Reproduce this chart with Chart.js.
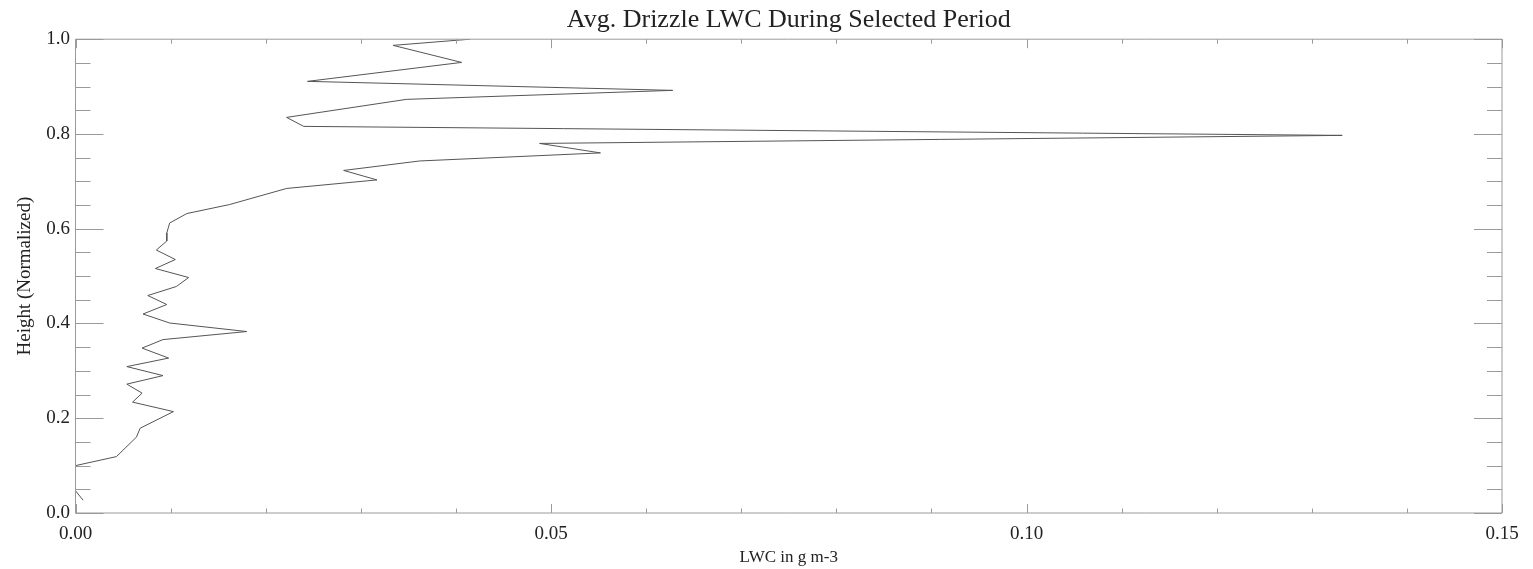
<!DOCTYPE html>
<html>
<head>
<meta charset="utf-8">
<title>Avg. Drizzle LWC During Selected Period</title>
<script src="https://cdn.jsdelivr.net/npm/chart.js@4.4.1/dist/chart.umd.min.js"></script>
<style>
    html, body { margin: 0; padding: 0; background: #fff; }
    canvas { display: block; }
</style>
</head>
<body>
<canvas id="lwcChart" width="1533" height="569"></canvas>
<script>
// profile, from cloud top downwards
const heights = [1.000, 0.987, 0.951, 0.911, 0.892, 0.873, 0.835, 0.816, 0.797, 0.780,
                 0.760, 0.743, 0.723, 0.703, 0.685, 0.651, 0.632, 0.612, 0.591, 0.574,
                 0.555, 0.535, 0.516, 0.497, 0.478, 0.459, 0.440, 0.420, 0.401, 0.383,
                 0.366, 0.348, 0.327, 0.309, 0.290, 0.272, 0.253, 0.234, 0.214, 0.179,
                 0.160, 0.119, 0.100, 0.047, 0.027];
const lwc = [0.0415, 0.0334, 0.0406, 0.0244, 0.0628, 0.0348, 0.0222, 0.0240, 0.1332, 0.0488,
             0.0552, 0.0362, 0.0282, 0.0317, 0.0222, 0.0162, 0.0117, 0.0099, 0.0096, 0.0096,
             0.0085, 0.0105, 0.0084, 0.0119, 0.0106, 0.0076, 0.0096, 0.0071, 0.0099, 0.0180,
             0.0092, 0.0070, 0.0098, 0.0054, 0.0092, 0.0054, 0.0070, 0.0060, 0.0103, 0.0068,
             0.0064, 0.0043, 0.0000, 0.0000, 0.0008];

const xTicks = [0, 0.05, 0.10, 0.15];
const yTicks = [0, 0.2, 0.4, 0.6, 0.8, 1.0];

const serif = "'Liberation Serif', 'Times New Roman', serif";
const axisColor = '#9a9a9a';

// IDL style box: ticks point into the plot, minor ticks between the labels
const boxTicks = {
    id: 'boxTicks',
    afterDatasetsDraw(chart) {
        const { ctx, chartArea: a, scales: { x, y } } = chart;
        ctx.save();
        ctx.strokeStyle = axisColor;
        ctx.lineWidth = 1;
        ctx.beginPath();
        ctx.rect(a.left, a.top, a.right - a.left, a.bottom - a.top);
        for (let i = 0; i <= 20; i++) {
            const py = Math.round(y.getPixelForValue(i * 0.05)) + 0.5;
            const len = i % 4 === 0 ? 28 : 15;
            ctx.moveTo(a.left, py); ctx.lineTo(a.left + len, py);
            ctx.moveTo(a.right, py); ctx.lineTo(a.right - len, py);
        }
        for (let i = 0; i <= 15; i++) {
            const px = Math.round(x.getPixelForValue(i * 0.01)) + 0.5;
            const len = i % 5 === 0 ? 9 : 4.5;
            ctx.moveTo(px, a.bottom); ctx.lineTo(px, a.bottom - len);
            ctx.moveTo(px, a.top); ctx.lineTo(px, a.top + len);
        }
        ctx.stroke();
        ctx.restore();
    }
};

const points = heights.map((h, i) => ({ x: lwc[i], y: h }));

new Chart(document.getElementById('lwcChart'), {
    type: 'scatter',
    data: {
        datasets: [{
            data: points,
            showLine: true,
            borderColor: '#555',
            borderWidth: 1,
            pointRadius: 0,
            tension: 0
        }]
    },
    options: {
        responsive: false,
        animation: false,
        events: [],
        layout: { padding: { top: 0, right: 31, bottom: 0, left: 0 } },
        scales: {
            x: {
                type: 'linear',
                min: 0,
                max: 0.15,
                afterBuildTicks: s => { s.ticks = xTicks.map(v => ({ value: v })); },
                afterFit: s => { s.height = 56; },
                grid: { display: false, drawTicks: false },
                border: { display: false },
                ticks: {
                    padding: 9.5,
                    color: '#222',
                    maxRotation: 0,
                    font: { family: serif, size: 19 },
                    callback: v => v.toFixed(2)
                },
                title: {
                    display: true,
                    text: 'LWC in g m-3',
                    color: '#222',
                    padding: { top: 0, bottom: 1 },
                    font: { family: serif, size: 17 }
                }
            },
            y: {
                type: 'linear',
                min: 0,
                max: 1,
                afterBuildTicks: s => { s.ticks = yTicks.map(v => ({ value: v })); },
                afterFit: s => { s.width = 75.5; },
                grid: { display: false, drawTicks: false },
                border: { display: false },
                ticks: {
                    padding: 5.5,
                    color: '#222',
                    font: { family: serif, size: 19 },
                    callback: v => v.toFixed(1)
                },
                title: {
                    display: true,
                    text: 'Height (Normalized)',
                    color: '#222',
                    padding: { top: 14, bottom: 0 },
                    font: { family: serif, size: 19 }
                }
            }
        },
        plugins: {
            legend: { display: false },
            tooltip: { enabled: false },
            title: {
                display: true,
                fullSize: false,
                text: 'Avg. Drizzle LWC During Selected Period',
                color: '#222',
                padding: { top: 5, bottom: 3 },
                font: { family: serif, size: 26, weight: 'normal' }
            }
        }
    },
    plugins: [boxTicks]
});
</script>
</body>
</html>
